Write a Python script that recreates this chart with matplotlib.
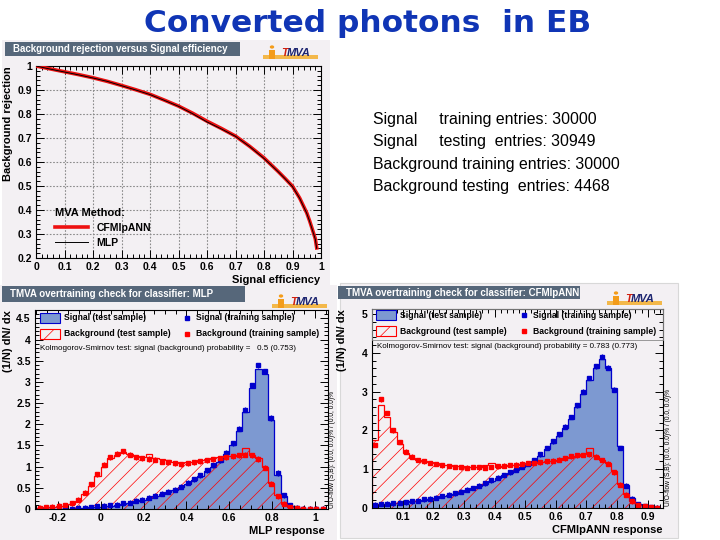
import numpy as np
import matplotlib
matplotlib.use('Agg')
import matplotlib.pyplot as plt
from matplotlib.patches import Rectangle, Circle
from matplotlib.lines import Line2D
from matplotlib.ticker import MultipleLocator

plt.rcParams['font.family'] = ['Liberation Sans', 'DejaVu Sans']
plt.rcParams['hatch.linewidth'] = 0.5

# ---- ROC curve (background rejection vs signal efficiency)
sig_eff = [0.0, 0.05, 0.1, 0.15, 0.2, 0.25, 0.3, 0.35, 0.4, 0.45, 0.5, 0.55, 0.6,
           0.65, 0.7, 0.75, 0.8, 0.85, 0.875, 0.9, 0.925, 0.95, 0.96, 0.97, 0.98, 0.985]
rej_cfmlp = [1.0, 0.988, 0.976, 0.964, 0.951, 0.936, 0.919, 0.901, 0.882, 0.858, 0.833, 0.803,
             0.770, 0.740, 0.708, 0.665, 0.617, 0.560, 0.530, 0.499, 0.450, 0.388, 0.355, 0.318,
             0.280, 0.242]
rej_mlp = [1.0, 0.987, 0.975, 0.963, 0.950, 0.936, 0.918, 0.900, 0.881, 0.857, 0.832, 0.801,
           0.767, 0.738, 0.707, 0.664, 0.615, 0.559, 0.529, 0.497, 0.449, 0.386, 0.353, 0.316,
           0.278, 0.240]

# ---- MLP response (bin edges -0.30 .. 1.05, width 0.03)
mlp_edges = np.round(np.arange(-0.30, 1.0501, 0.03), 3)
mlp_sig_test = [0, 0, 0, 0, 0.01, 0.01, 0.02, 0.03, 0.04, 0.05, 0.07, 0.08, 0.10, 0.12, 0.15,
                0.18, 0.22, 0.26, 0.30, 0.35, 0.40, 0.46, 0.52, 0.60, 0.68, 0.78, 0.90, 1.00,
                1.12, 1.30, 1.52, 1.85, 2.30, 2.85, 3.30, 3.20, 2.10, 0.80, 0.30, 0.08, 0.03,
                0.01, 0, 0, 0]
mlp_bkg_test = [0.03, 0.04, 0.05, 0.06, 0.08, 0.12, 0.20, 0.35, 0.55, 0.78, 1.00, 1.20, 1.28,
                1.35, 1.30, 1.25, 1.22, 1.30, 1.20, 1.18, 1.15, 1.10, 1.08, 1.10, 1.12, 1.15,
                1.18, 1.20, 1.22, 1.25, 1.25, 1.28, 1.45, 1.28, 1.20, 1.00, 0.62, 0.32, 0.12,
                0.04, 0.02, 0.01, 0.01, 0, 0]
mlp_sig_train = [0, 0, 0, 0, 0.01, 0.01, 0.02, 0.03, 0.04, 0.06, 0.07, 0.09, 0.10, 0.13, 0.15,
                 0.19, 0.22, 0.27, 0.31, 0.36, 0.41, 0.45, 0.53, 0.62, 0.70, 0.80, 0.92, 1.03,
                 1.15, 1.33, 1.55, 1.90, 2.35, 2.92, 3.40, 3.25, 2.15, 0.85, 0.32, 0.09, 0.03,
                 0.01, 0, 0, 0]
mlp_bkg_train = [0.03, 0.04, 0.05, 0.07, 0.09, 0.13, 0.22, 0.38, 0.58, 0.82, 1.05, 1.22, 1.30,
                 1.36, 1.28, 1.22, 1.20, 1.18, 1.16, 1.12, 1.10, 1.08, 1.06, 1.08, 1.10, 1.13,
                 1.15, 1.17, 1.20, 1.22, 1.24, 1.27, 1.28, 1.27, 1.18, 0.98, 0.60, 0.30, 0.12,
                 0.05, 0.02, 0.01, 0.01, 0, 0.01]

# ---- CFMlpANN response (bin edges 0 .. 0.94, width 0.02)
cf_edges = np.round(np.arange(0.0, 0.9401, 0.02), 3)
cf_sig_test = [0.10, 0.10, 0.11, 0.12, 0.13, 0.15, 0.17, 0.19, 0.21, 0.24, 0.27, 0.30, 0.33,
               0.37, 0.41, 0.46, 0.51, 0.57, 0.63, 0.70, 0.77, 0.84, 0.91, 0.98, 1.05, 1.12,
               1.22, 1.35, 1.52, 1.68, 1.85, 2.05, 2.30, 2.60, 2.95, 3.30, 3.62, 3.85, 3.60,
               3.10, 1.60, 0.60, 0.25, 0.10, 0.04, 0.02, 0.01]
cf_bkg_test = [1.75, 2.65, 2.35, 1.95, 1.65, 1.42, 1.30, 1.25, 1.22, 1.18, 1.15, 1.12, 1.10,
               1.08, 1.07, 1.05, 1.05, 1.06, 1.12, 1.15, 1.06, 1.08, 1.10, 1.12, 1.13, 1.15,
               1.17, 1.18, 1.20, 1.22, 1.24, 1.28, 1.32, 1.35, 1.38, 1.55, 1.33, 1.25, 1.15,
               0.95, 0.62, 0.35, 0.18, 0.08, 0.04, 0.02, 0.01]
cf_sig_train = [0.09, 0.10, 0.11, 0.12, 0.14, 0.15, 0.17, 0.19, 0.22, 0.24, 0.27, 0.31, 0.34,
                0.38, 0.42, 0.47, 0.52, 0.58, 0.64, 0.71, 0.78, 0.85, 0.92, 0.99, 1.06, 1.14,
                1.24, 1.38, 1.55, 1.72, 1.90, 2.10, 2.35, 2.65, 3.00, 3.35, 3.65, 3.90, 3.62,
                3.05, 1.55, 0.58, 0.24, 0.10, 0.04, 0.02, 0.01]
cf_bkg_train = [1.62, 2.80, 2.45, 2.00, 1.70, 1.45, 1.32, 1.24, 1.20, 1.16, 1.13, 1.10, 1.08,
                1.06, 1.05, 1.04, 1.06, 1.05, 1.04, 1.06, 1.07, 1.09, 1.11, 1.12, 1.14, 1.15,
                1.16, 1.18, 1.20, 1.22, 1.25, 1.28, 1.33, 1.36, 1.37, 1.38, 1.32, 1.24, 1.14,
                0.92, 0.60, 0.34, 0.17, 0.08, 0.04, 0.02, 0.01]

entries_text = ["Signal     training entries: 30000",
                "Signal     testing  entries: 30949",
                "Background training entries: 30000",
                "Background testing  entries: 4468"]

W, H = 720, 540
PANEL = '#f3f0f3'
SIGFILL = '#7d99d1'
SIGLINE = '#0000cc'
BKGLINE = '#ff0000'


def box(x0, y0, x1, y1):
    return [x0 / W, 1 - y1 / H, (x1 - x0) / W, (y1 - y0) / H]


def fx(x):
    return x / W


def fy(y):
    return 1 - y / H


def rect(x0, y0, x1, y1, **kw):
    fig.patches.append(Rectangle((fx(x0), fy(y1)), (x1 - x0) / W, (y1 - y0) / H,
                                 transform=fig.transFigure, **kw))


def title_box(x0, y0, x1, y1, text):
    rect(x0, y0, x1, y1, facecolor='#56677a', edgecolor='none')
    fig.text(fx(x0 + 8), fy((y0 + y1) / 2), text, color='white', fontsize=7,
             fontweight='bold', va='center', ha='left')


def logo(x, y):
    # small TMVA badge
    rect(x, y + 9, x + 55, y + 13, facecolor='#f3b84a', edgecolor='none')
    fig.patches.append(Circle((fx(x + 9), fy(y + 1)), 2.2 / W, transform=fig.transFigure,
                              facecolor='#f39c1a', edgecolor='none'))
    rect(x + 6, y + 4, x + 12, y + 13, facecolor='#f39c1a', edgecolor='none')
    fig.text(fx(x + 18), fy(y + 7), 'T', color='#d02010', fontsize=8, fontweight='bold',
             fontstyle='italic', va='center', ha='left')
    fig.text(fx(x + 24), fy(y + 7), 'MVA', color='#1c2470', fontsize=8, fontweight='bold',
             fontstyle='italic', va='center', ha='left')


def root_style(ax):
    ax.set_facecolor(PANEL)
    ax.tick_params(which='both', direction='in', top=True, right=True, labelsize=7.5,
                   width=0.7, pad=3)
    ax.tick_params(which='major', length=6)
    ax.tick_params(which='minor', length=3)
    for lab in ax.get_xticklabels() + ax.get_yticklabels():
        lab.set_fontweight('bold')
    for s in ax.spines.values():
        s.set_linewidth(0.8)


def overtrain(ax, edges, sig_test, bkg_test, sig_train, bkg_train, err):
    centers = (edges[:-1] + edges[1:]) / 2
    ax.stairs(sig_test, edges, fill=True, facecolor=SIGFILL, edgecolor='none')
    ax.stairs(sig_test, edges, color=SIGLINE, linewidth=0.9)
    ax.stairs(bkg_test, edges, fill=True, facecolor='none', edgecolor=BKGLINE,
              hatch='//', linewidth=0)
    ax.stairs(bkg_test, edges, color=BKGLINE, linewidth=0.9)
    ax.errorbar(centers, sig_train, yerr=err, fmt='s', ms=2.4, color=SIGLINE,
                elinewidth=0.8, capsize=0)
    ax.errorbar(centers, bkg_train, yerr=err, fmt='s', ms=2.4, color=BKGLINE,
                elinewidth=0.8, capsize=0)


def legend_block(xb, xm, y1, y2, frame=None):
    # ROOT-like legend drawn in pixel positions
    rect(xb, y1 - 5, xb + 20, y1 + 5, facecolor=SIGFILL, edgecolor=SIGLINE, linewidth=0.8,
         zorder=5)
    rect(xb, y2 - 5, xb + 20, y2 + 5, facecolor='none', edgecolor=BKGLINE, hatch='//',
         linewidth=0.8, zorder=5)
    for y, col in ((y1, SIGLINE), (y2, BKGLINE)):
        fig.add_artist(Line2D([fx(xm)], [fy(y)], marker='s', ms=2.4, color=col,
                              linestyle='none', transform=fig.transFigure, zorder=5))
    kw = dict(fontsize=6.2, fontweight='bold', ha='left', va='center', zorder=5)
    fig.text(fx(xb + 24), fy(y1), 'Signal (test sample)', **kw)
    fig.text(fx(xb + 24), fy(y2), 'Background (test sample)', **kw)
    fig.text(fx(xm + 9), fy(y1), 'Signal (training sample)', **kw)
    fig.text(fx(xm + 9), fy(y2), 'Background (training sample)', **kw)
    if frame is not None:
        rect(*frame, facecolor='none', edgecolor='#8a8a8a', linewidth=0.6, zorder=5)


fig = plt.figure(figsize=(7.2, 5.4), dpi=100)

# panel backgrounds (behind the axes)
rect(2, 40, 330, 289, facecolor=PANEL, edgecolor='none', zorder=-10)
rect(0, 285, 337, 540, facecolor=PANEL, edgecolor='none', zorder=-10)
rect(340, 283, 678, 538, facecolor=PANEL, edgecolor='#d8d8d8', linewidth=0.8, zorder=-10)

# slide title
fig.text(fx(368), fy(24), 'Converted photons  in EB', color='#1035b5', fontsize=22.5,
         fontweight='bold', family='DejaVu Sans', ha='center', va='center')

# ---- ROC panel
ax1 = fig.add_axes(box(36, 66, 321, 258))
ax1.set_xlim(0, 1)
ax1.set_ylim(0.2, 1.0)
ax1.plot(sig_eff, rej_cfmlp, color='#ee1111', linewidth=2.6, label='CFMlpANN', zorder=3)
ax1.plot(sig_eff, rej_mlp, color='black', linewidth=0.7, label='MLP', zorder=4)
ax1.set_xticks(np.round(np.arange(0, 1.01, 0.1), 1))
ax1.set_xticklabels(['0', '0.1', '0.2', '0.3', '0.4', '0.5', '0.6', '0.7', '0.8', '0.9', '1'])
ax1.set_yticks(np.round(np.arange(0.2, 1.01, 0.1), 1))
ax1.set_yticklabels(['0.2', '0.3', '0.4', '0.5', '0.6', '0.7', '0.8', '0.9', '1'])
ax1.xaxis.set_minor_locator(MultipleLocator(0.02))
ax1.yaxis.set_minor_locator(MultipleLocator(0.02))
root_style(ax1)
ax1.grid(True, which='major', color='#8a8a8a', linestyle=(0, (1.5, 1.5)), linewidth=0.8)
ax1.set_axisbelow(True)
leg1 = ax1.legend(title='MVA Method:', loc='lower left', bbox_to_anchor=(0.04, 0.015),
                  frameon=False, prop={'weight': 'bold', 'size': 7.5}, handlelength=3.2,
                  alignment='left', labelspacing=0.45, borderpad=0.2)
leg1.get_title().set_fontweight('bold')
leg1.get_title().set_fontsize(8)
title_box(5, 42, 240, 56, 'Background rejection versus Signal efficiency')
logo(263, 46)
fig.text(fx(8), fy(66), 'Background rejection', rotation=90, fontsize=8, fontweight='bold',
         ha='center', va='top')
fig.text(fx(320), fy(280), 'Signal efficiency', fontsize=8, fontweight='bold',
         ha='right', va='center')

# ---- MLP overtraining panel
ax2 = fig.add_axes(box(35, 310, 328, 509))
overtrain(ax2, mlp_edges, mlp_sig_test, mlp_bkg_test, mlp_sig_train, mlp_bkg_train, 0.06)
ax2.set_xlim(-0.306, 1.06)
ax2.set_ylim(0, 4.7)
ax2.set_xticks([-0.2, 0, 0.2, 0.4, 0.6, 0.8, 1.0])
ax2.set_xticklabels(['-0.2', '0', '0.2', '0.4', '0.6', '0.8', '1'])
ax2.xaxis.set_minor_locator(MultipleLocator(0.05))
ax2.set_yticks(np.round(np.arange(0, 4.51, 0.5), 1))
ax2.set_yticklabels(['0', '0.5', '1', '1.5', '2', '2.5', '3', '3.5', '4', '4.5'])
ax2.yaxis.set_minor_locator(MultipleLocator(0.1))
root_style(ax2)
legend_block(40, 187, 318, 334)
fig.text(fx(40), fy(348), 'Kolmogorov-Smirnov test: signal (background) probability =   0.5 (0.753)',
         fontsize=5.75, ha='left', va='center')
title_box(2, 286, 245, 302, 'TMVA overtraining check for classifier: MLP')
logo(272, 295)
fig.text(fx(8), fy(310), '(1/N) dN/ dx', rotation=90, fontsize=8, fontweight='bold',
         ha='center', va='top')
fig.text(fx(325), fy(531), 'MLP response', fontsize=8, fontweight='bold',
         ha='right', va='center')
fig.text(fx(333), fy(508), 'U/O-flow (S,B): (0.0, 0.0)% / (0.0, 0.0)%', rotation=90,
         fontsize=4.8, ha='center', va='bottom')

# ---- CFMlpANN overtraining panel
ax3 = fig.add_axes(box(372, 309, 663, 508))
overtrain(ax3, cf_edges, cf_sig_test, cf_bkg_test, cf_sig_train, cf_bkg_train, 0.06)
ax3.set_xlim(0, 0.95)
ax3.set_ylim(0, 5.13)
ax3.set_xticks(np.round(np.arange(0.1, 0.91, 0.1), 1))
ax3.set_xticklabels(['0.1', '0.2', '0.3', '0.4', '0.5', '0.6', '0.7', '0.8', '0.9'])
ax3.xaxis.set_minor_locator(MultipleLocator(0.02))
ax3.set_yticks([0, 1, 2, 3, 4, 5])
ax3.set_yticklabels(['0', '1', '2', '3', '4', '5'])
ax3.yaxis.set_minor_locator(MultipleLocator(0.2))
root_style(ax3)
legend_block(376, 524, 315, 331, frame=(372, 309, 663, 340))
fig.text(fx(377), fy(347), 'Kolmogorov-Smirnov test: signal (background) probability = 0.783 (0.773)',
         fontsize=5.75, ha='left', va='center')
title_box(338, 286, 580, 299, 'TMVA overtraining check for classifier: CFMlpANN')
logo(607, 292)
fig.text(fx(342), fy(309), '(1/N) dN/ dx', rotation=90, fontsize=8, fontweight='bold',
         ha='center', va='top')
fig.text(fx(662), fy(530), 'CFMlpANN response', fontsize=8, fontweight='bold',
         ha='right', va='center')
fig.text(fx(669), fy(506), 'U/O-flow (S,B): (0.0, 0.0)% / (0.0, 0.0)%', rotation=90,
         fontsize=4.8, ha='center', va='bottom')

# ---- sample sizes
for i, line in enumerate(entries_text):
    fig.text(fx(373), fy(124 + 22.4 * i), line, fontsize=11.4, ha='left', va='baseline')

fig.savefig('out.png', dpi=100)
